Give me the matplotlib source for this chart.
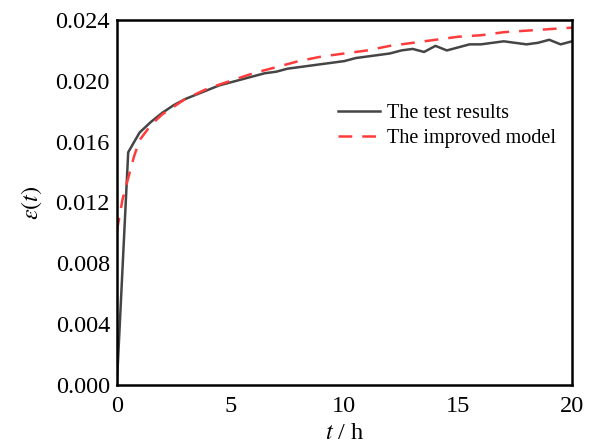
import matplotlib
matplotlib.use('Agg')
import matplotlib.pyplot as plt

# test data
t_test = [0, 0.5, 1, 1.5, 2, 2.5, 3, 3.5, 4, 4.5, 5, 5.5, 6, 6.5, 7, 7.5, 8, 8.5,
          9, 9.5, 10, 10.5, 11, 11.5, 12, 12.5, 13, 13.5, 14, 14.5, 15, 15.5,
          16, 16.5, 17, 17.5, 18, 18.5, 19, 19.5, 20]
eps_test = [0.0, 0.0153, 0.0166, 0.0173, 0.0179, 0.0184, 0.0188, 0.0191, 0.0194,
            0.0197, 0.0199, 0.0201, 0.0203, 0.0205, 0.0206, 0.0208, 0.0209, 0.0210,
            0.0211, 0.0212, 0.0213, 0.0215, 0.0216, 0.0217, 0.0218, 0.0220, 0.0221,
            0.0219, 0.0223, 0.0220, 0.0222, 0.0224, 0.0224, 0.0225, 0.0226, 0.0225,
            0.0224, 0.0225, 0.0227, 0.0224, 0.0226]

# improved model
t_model = [0, 0.25, 0.5, 0.75, 1, 1.5, 2, 3, 4, 5, 6, 7, 8, 9, 10, 11, 12, 13, 14,
           15, 16, 17, 18, 19, 20]
eps_model = [0.0101, 0.0122, 0.0136, 0.0150, 0.0161, 0.0171, 0.0178, 0.0188, 0.0195,
             0.0200, 0.0205, 0.0209, 0.0213, 0.0216, 0.0218, 0.0220, 0.0223, 0.0225,
             0.0227, 0.0229, 0.0230, 0.0232, 0.0233, 0.0234, 0.0235]

plt.rcParams['font.family'] = 'Liberation Serif'
plt.rcParams['mathtext.fontset'] = 'stix'

fig = plt.figure(figsize=(5.9, 4.45), dpi=100)
ax = fig.add_axes([0.198, 0.135, 0.7715, 0.82])

ax.plot(t_test, eps_test, color='#454545', lw=1.8, label='The test results')
ax.plot(t_model, eps_model, color='#ff3b3b', lw=1.8, dashes=(5.5, 4),
        label='The improved model')

ax.set_xlim(0, 20)
ax.set_ylim(0, 0.024)
ax.set_xticks([0, 5, 10, 15, 20])
ax.set_yticks([0.000, 0.004, 0.008, 0.012, 0.016, 0.020, 0.024])
ax.set_yticklabels(['%.3f' % v for v in ax.get_yticks()])
ax.tick_params(length=0, labelsize=17.5)
ax.tick_params(axis='x', pad=8)
ax.tick_params(axis='y', pad=5)
for s in ax.spines.values():
    s.set_linewidth(1.8)

ax.set_xlabel(r'$t$ / h', fontsize=17.5, labelpad=4)
ax.set_ylabel(r'$\varepsilon(t)$', fontsize=17.5, labelpad=8)

ax.legend(loc='upper left', bbox_to_anchor=(0.445, 0.82), frameon=False,
          fontsize=14.5, handlelength=2.1, handletextpad=0.35, labelspacing=0.3)

fig.savefig('out.png', dpi=100)
